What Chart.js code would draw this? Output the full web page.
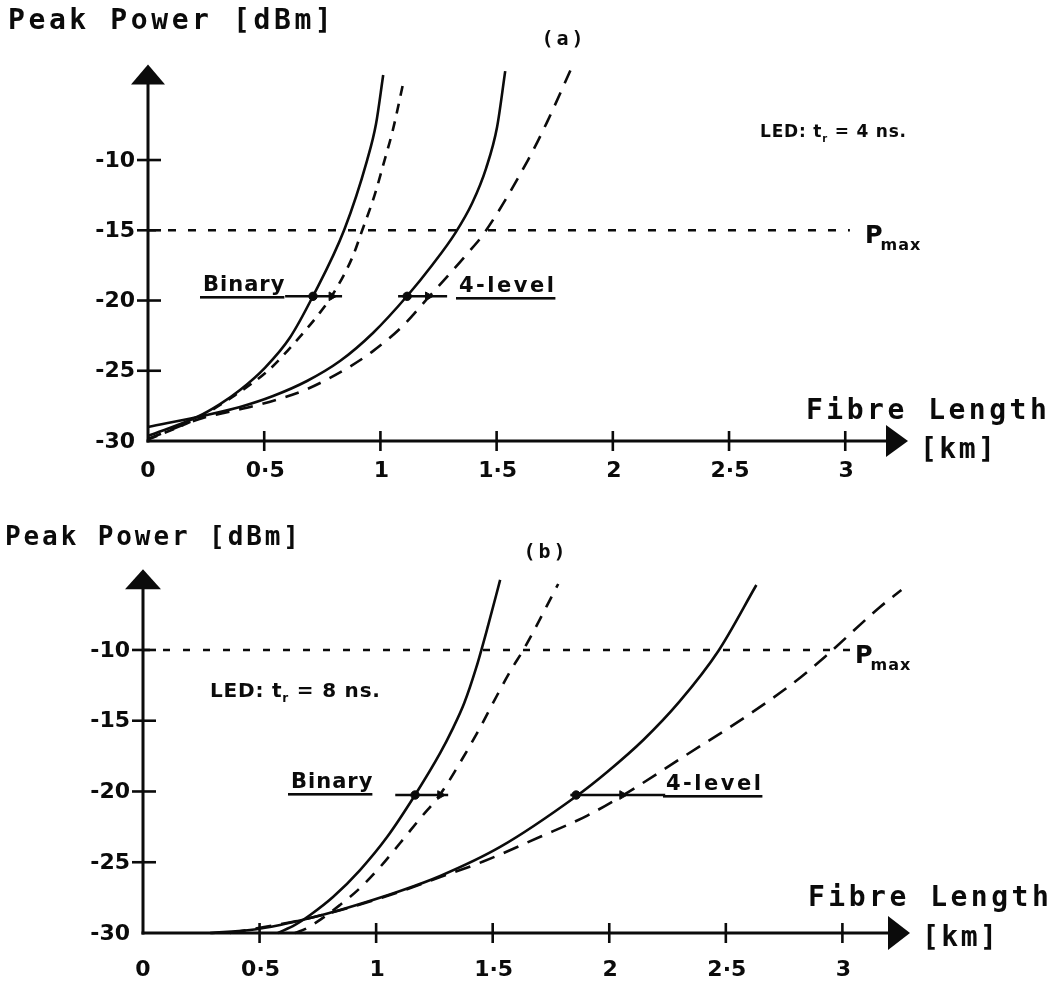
<!DOCTYPE html>
<html>
<head>
<meta charset="utf-8">
<script src="https://cdn.jsdelivr.net/npm/chart.js@4/dist/chart.umd.min.js"></script>
<style>
html,body{margin:0;padding:0;background:#fff;}
#wrap{position:relative;width:1061px;height:994px;overflow:hidden;}
canvas{position:absolute;left:0;top:0;}
</style>
</head>
<body>
<div id="wrap">
<canvas id="ca" width="1061" height="994"></canvas>
<canvas id="cb" width="1061" height="994"></canvas>
</div>
<script>
// ---------- tick values / labels ----------
const xTicks = [0, 0.5, 1, 1.5, 2, 2.5, 3];
const xTickLabels = ['0', '0·5', '1', '1·5', '2', '2·5', '3'];
const yTicks = [-30, -25, -20, -15, -10];
const yTickLabels = ['-30', '-25', '-20', '-15', '-10'];

// ---------- panel (a): LED tr = 4 ns, Pmax = -15 dBm ----------
const aPmax = -15;
const aBinSolidX = [0, 0.211, 0.310, 0.396, 0.504, 0.611, 0.710, 0.844, 0.943, 0.981, 1.012];
const aBinSolidY = [-29.64, -28.29, -27.37, -26.37, -24.77, -22.63, -19.68, -14.98, -10.0, -7.44, -3.95];
const aBinDashX = [0, 0.215, 0.375, 0.523, 0.631, 0.738, 0.790, 0.880, 0.919, 0.975, 1.018, 1.053, 1.100];
const aBinDashY = [-29.9, -28.36, -26.73, -24.9, -23.0, -20.9, -19.7, -16.9, -15.12, -12.5, -10.0, -7.9, -4.38];
const aQuadSolidX = [0, 0.254, 0.396, 0.538, 0.684, 0.826, 0.968, 1.115, 1.223, 1.322, 1.395, 1.455, 1.502, 1.537];
const aQuadSolidY = [-29.0, -28.15, -27.58, -26.8, -25.73, -24.31, -22.31, -19.68, -17.47, -15.2, -13.06, -10.57, -7.65, -3.67];
const aQuadDashX = [0, 0.236, 0.340, 0.469, 0.555, 0.663, 0.749, 0.869, 0.968, 1.097, 1.200, 1.372, 1.450, 1.635, 1.717, 1.824];
const aQuadDashY = [-29.85, -28.36, -27.95, -27.45, -27.05, -26.45, -25.8, -24.7, -23.6, -21.8, -19.9, -16.7, -15.12, -10.0, -7.3, -3.38];
const aMarkY = -19.7;
const aBinMark = [0.59, 0.71, 0.79, 0.835];    // segment start, dot, triangle, segment end
const aQuadMark = [1.076, 1.115, 1.205, 1.287];

// ---------- panel (b): LED tr = 8 ns, Pmax = -10 dBm ----------
const bPmax = -10;
const bBinSolidX = [0.579, 0.652, 0.717, 0.815, 0.931, 1.047, 1.167, 1.275, 1.326, 1.378, 1.429, 1.481, 1.532];
const bBinSolidY = [-30, -29.43, -28.73, -27.46, -25.55, -23.22, -20.25, -17.28, -15.65, -13.75, -11.27, -8.23, -5.05];
const bBinDashX = [0.652, 0.704, 0.845, 0.931, 1.017, 1.103, 1.189, 1.275, 1.373, 1.442, 1.519, 1.579, 1.635, 1.781];
const bBinDashY = [-30, -29.65, -28.02, -26.82, -25.34, -23.64, -21.9, -20.2, -17.6, -15.6, -13.2, -11.4, -9.9, -5.34];
const bQuadSolidX = [0.288, 0.459, 0.588, 0.717, 0.845, 1.103, 1.275, 1.532, 1.854, 1.991, 2.146, 2.300, 2.468, 2.631];
const bQuadSolidY = [-30, -29.79, -29.43, -28.94, -28.37, -27.03, -25.97, -23.92, -20.39, -18.62, -16.36, -13.67, -10.07, -5.41];
const bQuadDashX = [0.373, 0.674, 0.845, 1.090, 1.275, 1.459, 1.704, 1.906, 2.056, 2.313, 2.605, 2.820, 2.931, 3.159, 3.253];
const bQuadDashY = [-30, -29.1, -28.4, -27.15, -26.05, -24.95, -23.2, -21.7, -20.3, -17.6, -14.5, -11.95, -10.4, -7.0, -5.76];
const bMarkY = -20.25;
const bBinMark = [1.082, 1.167, 1.275, 1.309];
const bQuadMark = [1.833, 1.858, 2.056, 2.240];

// ---------- helpers ----------
const ink = '#0b0b0b';
const pts = (xs, ys) => xs.map((x, i) => ({ x: x, y: ys[i] }));

function curve(xs, ys, dash) {
  return {
    data: pts(xs, ys), borderColor: ink, borderWidth: 2.6, borderDash: dash || [],
    pointRadius: 0, fill: false, cubicInterpolationMode: 'monotone', clip: false
  };
}
function hline(y, x0, x1, dash, w) {
  return {
    data: [{ x: x0, y: y }, { x: x1, y: y }], borderColor: ink, borderWidth: w || 2.5,
    borderDash: dash || [], pointRadius: 0, fill: false, clip: false
  };
}
function markers(y, m) {
  return {
    data: [{ x: m[1], y: y }, { x: m[2], y: y }], showLine: false,
    pointStyle: ['circle', 'triangle'], pointRadius: [4.2, 5], pointRotation: [0, 90],
    pointBackgroundColor: ink, pointBorderColor: ink, pointBorderWidth: 1, clip: false
  };
}

function txt(ctx, s, x, y, font, spacing, align, baseline) {
  ctx.font = font;
  if ('letterSpacing' in ctx) ctx.letterSpacing = (spacing || 0) + 'px';
  ctx.textAlign = align || 'left';
  ctx.textBaseline = baseline || 'alphabetic';
  ctx.fillText(s, x, y);
  const w = ctx.measureText(s).width;
  if ('letterSpacing' in ctx) ctx.letterSpacing = '0px';
  return w;
}

const mono = (s) => 'bold ' + s + 'px "DejaVu Sans Mono", "Liberation Mono", monospace';
const sans = (s) => 'bold ' + s + 'px "DejaVu Sans", "Liberation Sans", sans-serif';

const decoPlugin = {
  id: 'deco',
  beforeDatasetsDraw(chart, args, o) {
    const ctx = chart.ctx, xs = chart.scales.x, ys = chart.scales.y, ca = chart.chartArea;
    const x0 = xs.getPixelForValue(0), y0 = ys.getPixelForValue(yTicks[0]);
    ctx.save();
    ctx.strokeStyle = ink; ctx.fillStyle = ink;
    // axes lines
    ctx.lineWidth = 3;
    ctx.beginPath(); ctx.moveTo(x0, y0 + 1.5); ctx.lineTo(x0, ca.top + 10); ctx.stroke();
    ctx.beginPath(); ctx.moveTo(x0 - 1.5, y0); ctx.lineTo(ca.right - 10, y0); ctx.stroke();
    // arrow heads
    ctx.beginPath();
    ctx.moveTo(x0, ca.top); ctx.lineTo(x0 - o.arrowW, ca.top + o.arrowH); ctx.lineTo(x0 + o.arrowW, ca.top + o.arrowH);
    ctx.closePath(); ctx.fill();
    ctx.beginPath();
    ctx.moveTo(ca.right, y0); ctx.lineTo(ca.right - o.arrowH - 2, y0 - o.arrowW + 1); ctx.lineTo(ca.right - o.arrowH - 2, y0 + o.arrowW - 1);
    ctx.closePath(); ctx.fill();
    // tick marks
    ctx.lineWidth = 2.6;
    yTicks.forEach(v => {
      if (v === yTicks[0]) return;
      const y = ys.getPixelForValue(v);
      ctx.beginPath(); ctx.moveTo(x0 - 11, y); ctx.lineTo(x0 + 13, y); ctx.stroke();
    });
    xTicks.forEach(v => {
      if (v === 0) return;
      const x = xs.getPixelForValue(v);
      ctx.beginPath(); ctx.moveTo(x, y0 - 10); ctx.lineTo(x, y0 + 10); ctx.stroke();
    });
    // tick labels
    const tf = sans(22);
    yTicks.forEach((v, i) => {
      txt(ctx, yTickLabels[i], x0 - 13, ys.getPixelForValue(v) + 1, tf, 0, 'right', 'middle');
    });
    xTicks.forEach((v, i) => {
      txt(ctx, xTickLabels[i], xs.getPixelForValue(v) + (v === 0 ? 0 : 1), y0 + o.xLabOff, tf, 0, 'center', 'middle');
    });
    ctx.restore();
  },
  afterDraw(chart, args, o) {
    const ctx = chart.ctx, ys = chart.scales.y;
    ctx.save();
    ctx.fillStyle = ink;
    // axis titles
    txt(ctx, 'Peak Power [dBm]', o.yTitle[0], o.yTitle[1], mono(o.yTitle[2]), o.yTitle[3], 'left', 'middle');
    txt(ctx, 'Fibre Length', o.xTitle[0], o.xTitle[1], mono(28), 3.5, 'left', 'middle');
    txt(ctx, '[km]', o.xUnit[0], o.xUnit[1], mono(28), 2.5, 'left', 'middle');
    // panel tag
    txt(ctx, o.tag[0], o.tag[1], o.tag[2], mono(20), 3, 'center', 'middle');
    // LED annotation with subscript
    let x = o.led[0];
    const fs = o.led[2], ls = o.led[3];
    x += txt(ctx, 'LED: t', x, o.led[1], sans(fs), ls, 'left', 'alphabetic');
    x += txt(ctx, 'r', x, o.led[1] + 5, sans(Math.round(fs * 0.6)), 0, 'left', 'alphabetic') + ls;
    txt(ctx, ' = ' + o.led[4] + ' ns.', x, o.led[1], sans(fs), ls, 'left', 'alphabetic');
    // Pmax label
    const px = o.pmaxLab[0], py = ys.getPixelForValue(o.pmaxLab[1]);
    const pw = txt(ctx, 'P', px, py + 13, sans(24), 0, 'left', 'alphabetic');
    txt(ctx, 'max', px + pw - 2, py + 20, sans(16), 1, 'left', 'alphabetic');
    // Binary / 4-level labels with underline
    o.labels.forEach(l => {
      const w = txt(ctx, l[0], l[1], l[2], sans(21), l[3], 'left', 'alphabetic');
      ctx.fillRect(l[1] - 3, l[2] + 5, w + 2, 2.6);
    });
    ctx.restore();
  }
};

function makeChart(id, cfg) {
  return new Chart(document.getElementById(id), {
    type: 'line',
    data: { datasets: cfg.datasets },
    options: {
      responsive: false, animation: false, devicePixelRatio: 1, events: [],
      layout: { padding: cfg.padding },
      scales: {
        x: { type: 'linear', min: 0, max: cfg.xMax, display: false },
        y: { type: 'linear', min: yTicks[0], max: cfg.yMax, display: false }
      },
      plugins: { legend: { display: false }, tooltip: { enabled: false }, deco: cfg.deco }
    },
    plugins: [decoPlugin]
  });
}

// ---------- chart (a) ----------
makeChart('ca', {
  padding: { left: 148, right: 153, top: 64.5, bottom: 553 },
  xMax: 3.27, yMax: -3.2,
  datasets: [
    hline(aPmax, 0, 3.02, [8, 12], 2.5),
    curve(aBinSolidX, aBinSolidY),
    curve(aBinDashX, aBinDashY, [10, 8]),
    curve(aQuadSolidX, aQuadSolidY),
    curve(aQuadDashX, aQuadDashY, [14, 10]),
    hline(aMarkY, aBinMark[0], aBinMark[3]),
    hline(aMarkY, aQuadMark[0], aQuadMark[3]),
    markers(aMarkY, aBinMark),
    markers(aMarkY, aQuadMark)
  ],
  deco: {
    arrowW: 17, arrowH: 20, xLabOff: 30,
    yTitle: [8, 22, 28, 3.6],
    xTitle: [806, 412], xUnit: [920, 451],
    tag: ['(a)', 564, 40],
    led: [760, 137, 17, 0.8, '4'],
    pmaxLab: [865, aPmax],
    labels: [['Binary', 203, 291, 1], ['4-level', 459, 292, 2.5]]
  }
});

// ---------- chart (b) ----------
makeChart('cb', {
  padding: { left: 143, right: 151, top: 569.3, bottom: 61 },
  xMax: 3.29, yMax: -4.3,
  datasets: [
    hline(bPmax, 0, 3.05, [7, 13], 2.5),
    curve(bBinSolidX, bBinSolidY),
    curve(bBinDashX, bBinDashY, [12, 10]),
    curve(bQuadSolidX, bQuadSolidY),
    curve(bQuadDashX, bQuadDashY, [16, 10]),
    hline(bMarkY, bBinMark[0], bBinMark[3]),
    hline(bMarkY, bQuadMark[0], bQuadMark[3]),
    markers(bMarkY, bBinMark),
    markers(bMarkY, bQuadMark)
  ],
  deco: {
    arrowW: 18, arrowH: 20, xLabOff: 37,
    yTitle: [5, 538, 26, 2.9],
    xTitle: [808, 899], xUnit: [922, 939],
    tag: ['(b)', 546, 553],
    led: [210, 697, 20, 0.8, '8'],
    pmaxLab: [855, bPmax],
    labels: [['Binary', 291, 788, 1], ['4-level', 666, 790, 2.5]]
  }
});
</script>
</body>
</html>
